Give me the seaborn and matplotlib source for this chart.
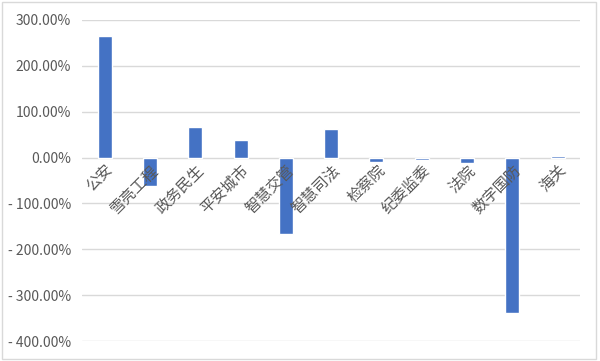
import matplotlib
matplotlib.use('Agg')
import matplotlib.pyplot as plt
import seaborn as sns
import pandas as pd
from matplotlib.ticker import FuncFormatter, MultipleLocator

# 数据
categories = ['公安', '雪亮工程', '政务民生', '平安城市', '智慧交管', '智慧司法',
              '检察院', '纪委监委', '法院', '数字国防', '海关']
growth = [265, -61, 66, 39, -166, 63, -9, -5, -11, -339, 3]

sns.set_style('white')
plt.rcParams['font.family'] = ['Noto Sans CJK SC', 'DejaVu Sans']
plt.rcParams['axes.unicode_minus'] = False

df = pd.DataFrame({'cat': categories, 'val': growth})

fig = plt.figure(figsize=(6, 3.61), dpi=100)
ax = fig.add_axes([0.137, 0.055, 0.83, 0.89])

sns.barplot(data=df, x='cat', y='val', color='#4472C4', width=0.31,
            saturation=1, ax=ax, zorder=3)

ax.set_ylim(-400, 300)
ax.set_xlim(-0.5, len(categories) - 0.5)
ax.yaxis.set_major_locator(MultipleLocator(100))


def pct(v, pos):
    if v < 0:
        return '- %.2f%%' % (-v)
    return '%.2f%%' % v


ax.yaxis.set_major_formatter(FuncFormatter(pct))
ax.grid(False)
# 网格线画在柱子下面
for t in ax.get_yticks():
    if -400 <= t <= 300:
        ax.axhline(t, color='#D9D9D9', linewidth=1, zorder=0)
for s in ax.spines.values():
    s.set_visible(False)

# x 轴标签放在 0 线上，并压在柱子上面
ax.spines['bottom'].set_position(('data', 0))
ax.xaxis.set_zorder(5)
ax.tick_params(axis='x', length=0, pad=3)
ax.tick_params(axis='y', length=0, pad=8, labelsize=10, labelcolor='#595959')
plt.setp(ax.get_xticklabels(), rotation=45, ha='right', va='top',
         rotation_mode='anchor', fontsize=11, color='#595959')
ax.set_xlabel('')
ax.set_ylabel('')

# 外框
fig.patches.append(plt.Rectangle((0.004, 0.006), 0.99, 0.988, transform=fig.transFigure,
                                 fill=False, edgecolor='#D9D9D9', linewidth=1))

fig.savefig('out.png', dpi=100)
